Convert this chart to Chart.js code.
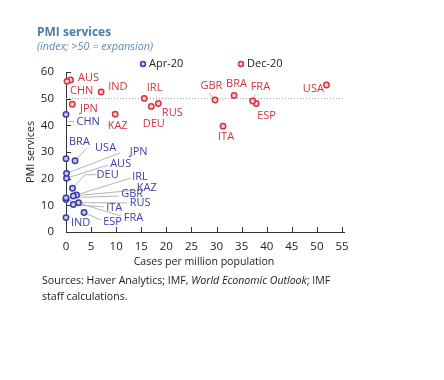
<!DOCTYPE html>
<html>
<head>
<meta charset="utf-8">
<script src="https://cdn.jsdelivr.net/npm/chart.js@4.4.1/dist/chart.umd.min.js"></script>
<style>
  html, body { margin: 0; padding: 0; background: #fff; }
  #wrap { width: 444px; height: 380px; position: relative; }
</style>
</head>
<body>
<div id="wrap"><canvas id="pmiChart"></canvas></div>
<script>
// data
const countries = ['AUS', 'BRA', 'CHN', 'DEU', 'ESP', 'FRA', 'GBR', 'IND', 'IRL', 'ITA', 'JPN', 'KAZ', 'RUS', 'USA'];
const casesApr = [0.1, 0.0, 0.0, 1.3, 3.6, 0.0, 0.0, 0.0, 2.1, 1.45, 0.1, 1.45, 2.5, 1.8];
const pmiApr   = [20.2, 27.5, 44.1, 16.4, 7.3, 12.2, 12.8, 5.4, 13.9, 10.3, 22.0, 13.5, 11.0, 26.7];
const casesDec = [0.9, 33.5, 0.2, 17.0, 37.9, 37.2, 29.7, 7.0, 15.6, 31.3, 1.25, 9.8, 18.4, 51.9];
const pmiDec   = [57.0, 51.2, 56.5, 47.1, 48.2, 49.1, 49.5, 52.5, 50.1, 39.7, 47.9, 44.2, 48.2, 55.1];
const seriesNames = ['Apr-20', 'Dec-20'];
const xTicks = [0, 5, 10, 15, 20, 25, 30, 35, 40, 45, 50, 55];
const yTicks = [0, 10, 20, 30, 40, 50, 60];
const expansionLine = 50;

// label placement (data units): [textX, textY, leaderFromX, leaderFromY]
const labelPosApr = {
  AUS: [8.8, 25.4, 8.4, 25.1],
  BRA: [0.6, 33.9],
  CHN: [2.1, 41.4, 1.6, 41.4, 0.3, 41.4],
  DEU: [6.1, 21.5, 6.0, 21.5, 3.8, 21.5, 'elbow'],
  ESP: [7.4, 3.9, 6.9, 4.5],
  FRA: [11.5, 5.4, 11.0, 6.0],
  GBR: [11.0, 14.2, 10.6, 13.5],
  IND: [1.0, 3.3],
  IRL: [13.2, 20.7, 12.9, 20.2],
  ITA: [8.0, 8.9, 7.5, 9.4],
  JPN: [12.7, 30.1, 10.8, 29.7],
  KAZ: [14.1, 16.4, 13.8, 15.7],
  RUS: [12.7, 10.8, 12.2, 10.9],
  USA: [5.8, 31.6, 4.1, 31.4]
};
const labelPosDec = {
  AUS: [2.4, 57.9],
  BRA: [31.9, 55.5],
  CHN: [0.8, 52.9],
  DEU: [15.3, 40.5],
  ESP: [38.1, 43.5],
  FRA: [36.8, 54.5, 37.7, 51.6],
  GBR: [26.8, 54.9, 28.6, 52.0],
  IND: [8.4, 54.5],
  IRL: [16.1, 53.9],
  ITA: [30.3, 35.5],
  JPN: [2.8, 46.1],
  KAZ: [8.3, 39.7],
  RUS: [19.1, 44.5],
  USA: [47.2, 53.6]
};

const FONT = "'Open Sans', 'Noto Sans', sans-serif";
const blue = '#3b3ba6';
const red = '#d0343f';

const pointsOf = (xs, ys) => xs.map((x, i) => ({ x: x, y: ys[i] }));

const decorPlugin = {
  id: 'decor',
  beforeDatasetsDraw(chart) {
    const { ctx, chartArea, scales } = chart;
    const y50 = scales.y.getPixelForValue(expansionLine);
    ctx.save();
    ctx.strokeStyle = '#9a9a9a';
    ctx.lineWidth = 1;
    ctx.setLineDash([1, 2]);
    ctx.beginPath();
    ctx.moveTo(chartArea.left, y50);
    ctx.lineTo(chartArea.right + 3, y50);
    ctx.stroke();
    ctx.setLineDash([]);

    // axis line runs a little past the last tick, ticks point inward
    ctx.strokeStyle = '#333';
    ctx.beginPath();
    ctx.moveTo(chartArea.right, Math.round(chartArea.bottom) + 0.5);
    ctx.lineTo(chartArea.right + 3, Math.round(chartArea.bottom) + 0.5);
    xTicks.forEach(v => {
      const px = Math.round(scales.x.getPixelForValue(v)) + 0.5;
      ctx.moveTo(px, chartArea.bottom);
      ctx.lineTo(px, chartArea.bottom - 5);
    });
    yTicks.forEach(v => {
      const py = Math.round(scales.y.getPixelForValue(v)) + 0.5;
      ctx.moveTo(chartArea.left, py);
      ctx.lineTo(chartArea.left + 5, py);
    });
    ctx.stroke();

    // leader lines
    ctx.strokeStyle = '#b4b4b4';
    ctx.lineWidth = 1;
    const leaders = (pos, xs, ys) => {
      countries.forEach((c, i) => {
        const p = pos[c];
        if (!p || p.length < 4) return;
        ctx.beginPath();
        ctx.moveTo(scales.x.getPixelForValue(p[2]), scales.y.getPixelForValue(p[3]));
        if (p.length >= 6) {
          ctx.lineTo(scales.x.getPixelForValue(p[4]), scales.y.getPixelForValue(p[5]));
        }
        if (p.length === 4 || p[6] === 'elbow') {
          ctx.lineTo(scales.x.getPixelForValue(xs[i]), scales.y.getPixelForValue(ys[i]));
        }
        ctx.stroke();
      });
    };
    leaders(labelPosApr, casesApr, pmiApr);
    leaders(labelPosDec, casesDec, pmiDec);
    ctx.restore();
  },
  afterDraw(chart) {
    const { ctx, scales } = chart;
    ctx.save();
    ctx.textBaseline = 'middle';
    ctx.textAlign = 'left';

    // point labels
    ctx.font = '11px ' + FONT;
    const labels = (pos, color) => {
      ctx.fillStyle = color;
      countries.forEach(c => {
        const p = pos[c];
        ctx.fillText(c, scales.x.getPixelForValue(p[0]), scales.y.getPixelForValue(p[1]));
      });
    };
    labels(labelPosApr, blue);
    labels(labelPosDec, red);

    // title + subtitle
    ctx.fillStyle = '#4d7ca8';
    ctx.font = 'bold 12px ' + FONT;
    ctx.fillText('PMI services', 37, 33);
    ctx.fillStyle = '#5a8ab5';
    ctx.font = 'italic 10.8px ' + FONT;
    ctx.fillText('(index; >50 = expansion)', 37, 47);

    // legend
    ctx.font = '11px ' + FONT;
    const legendX = [143, 241];
    chart.data.datasets.forEach((ds, i) => {
      ctx.beginPath();
      ctx.arc(legendX[i], 64, 2.5, 0, Math.PI * 2);
      ctx.fillStyle = ds.backgroundColor;
      ctx.fill();
      ctx.lineWidth = 1.5;
      ctx.strokeStyle = ds.borderColor;
      ctx.stroke();
      ctx.fillStyle = '#222';
      ctx.fillText(ds.label, legendX[i] + 6, 64);
    });

    // source note
    ctx.fillStyle = '#222';
    let x = 42;
    const y1 = 281;
    ctx.font = '10.6px ' + FONT;
    ctx.fillText('Sources: Haver Analytics; IMF, ', x, y1);
    x += ctx.measureText('Sources: Haver Analytics; IMF, ').width;
    ctx.font = 'italic 10.6px ' + FONT;
    ctx.fillText('World Economic Outlook', x, y1);
    x += ctx.measureText('World Economic Outlook').width;
    ctx.font = '10.6px ' + FONT;
    ctx.fillText('; IMF', x, y1);
    ctx.fillText('staff calculations.', 42, 297);
    ctx.restore();
  }
};

new Chart(document.getElementById('pmiChart').getContext('2d'), {
  type: 'scatter',
  data: {
    datasets: [{
      label: seriesNames[0],
      data: pointsOf(casesApr, pmiApr),
      borderColor: blue,
      backgroundColor: '#c9c9ef',
      pointRadius: 2.7,
      pointBorderWidth: 1.5,
      clip: false
    }, {
      label: seriesNames[1],
      data: pointsOf(casesDec, pmiDec),
      borderColor: red,
      backgroundColor: '#f7cfd2',
      pointRadius: 2.7,
      pointBorderWidth: 1.5,
      clip: false
    }]
  },
  options: {
    responsive: true,
    maintainAspectRatio: false,
    animation: false,
    layout: { padding: { left: 20, right: 102, top: 72, bottom: 108 } },
    scales: {
      x: {
        min: 0, max: 55,
        afterFit: s => { s.height = 40; },
        afterBuildTicks: s => { s.ticks = xTicks.map(v => ({ value: v })); },
        ticks: { color: '#222', padding: 8, font: { family: FONT, size: 11.5 } },
        grid: { drawOnChartArea: false, drawTicks: false },
        border: { color: '#333' },
        title: { display: true, text: 'Cases per million population', color: '#222', font: { family: FONT, size: 10.6 } }
      },
      y: {
        min: 0, max: 60,
        afterFit: s => { s.width = 46; },
        afterBuildTicks: s => { s.ticks = yTicks.map(v => ({ value: v })); },
        ticks: { color: '#222', padding: 12, font: { family: FONT, size: 11.5 } },
        grid: { drawOnChartArea: false, drawTicks: false },
        border: { color: '#333' },
        title: { display: true, text: 'PMI services', color: '#222', font: { family: FONT, size: 10.8 } }
      }
    },
    plugins: {
      legend: { display: false },
      tooltip: { enabled: false }
    }
  },
  plugins: [decorPlugin]
});
</script>
</body>
</html>
